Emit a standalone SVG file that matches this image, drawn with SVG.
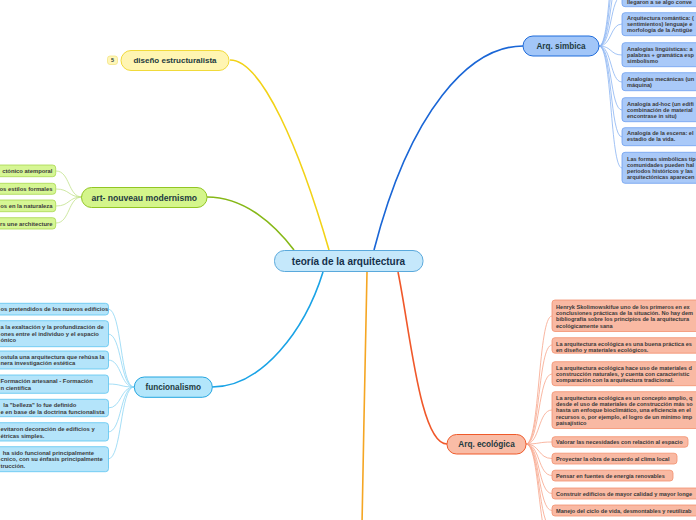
<svg xmlns="http://www.w3.org/2000/svg" width="696" height="520" viewBox="0 0 696 520">
<style>
text{font-family:"Liberation Sans",Arial,sans-serif}
.c{font-size:5.6px;font-weight:bold;fill:#3a3a3a;dominant-baseline:central}
.cl{font-size:5.85px}
.lbl{font-size:8.2px;font-weight:bold;fill:#1d3a40;text-anchor:middle;dominant-baseline:central}
.main{stroke-width:1.6;fill:none}
.sub{stroke-width:0.8;fill:none}
.gbox{fill:#d6f694;stroke:#a8d84e;stroke-width:0.8}
.bbox{fill:#a9c9f8;stroke:#6e9ff0;stroke-width:0.8}
.cbox{fill:#b4e4fa;stroke:#5cc4f0;stroke-width:0.8}
.rbox{fill:#f9b9a3;stroke:#f3916f;stroke-width:0.8}
</style>
<g id="connectors">
<path class="main" stroke="#f2d216" d="M230,60 C262,60 300,150 329,250"/>
<path class="main" stroke="#86b817" d="M207,197 C245,197 275,225 294,250"/>
<path class="main" stroke="#1a66d6" d="M523,46 C470,46 410,110 374,250"/>
<path class="main" stroke="#1aa3e6" d="M323,272 C305,330 262,387 212,387"/>
<path class="main" stroke="#f5a623" d="M367,272 C366,360 363,440 362,525"/>
<path class="main" stroke="#f0582a" d="M398,272 C410,330 420,444 447,444"/>
<g stroke="#8ab4f2" class="sub">
<path d="M599,46 C612,46 610,-90 622,-90"/>
<path d="M599,46 C612,46 610,-60 622,-60"/>
<path d="M599,46 C612,46 610,-30 622,-30"/>
<path d="M599,46 C612,46 610,-4 622,-4"/>
<path d="M599,46 C612,46 610,24 622,24"/>
<path d="M599,46 C612,46 610,55 622,55"/>
<path d="M599,46 C612,46 610,82 622,82"/>
<path d="M599,46 C612,46 610,110 622,110"/>
<path d="M599,46 C612,46 610,137 622,137"/>
<path d="M599,46 C612,46 610,168 622,168"/>
</g>
<g stroke="#c2e28a" class="sub">
<path d="M82,197 C68,197 70,171 56,171"/>
<path d="M82,197 C68,197 70,189 56,189"/>
<path d="M82,197 C68,197 70,206 56,206"/>
<path d="M82,197 C68,197 70,223 56,223"/>
</g>
<g stroke="#8ed5f4" class="sub">
<path d="M134,387 C120,387 122,309 108,309"/>
<path d="M134,387 C120,387 122,334 108,334"/>
<path d="M134,387 C120,387 122,360 108,360"/>
<path d="M134,387 C120,387 122,384 108,384"/>
<path d="M134,387 C120,387 122,408 108,408"/>
<path d="M134,387 C120,387 122,432 108,432"/>
<path d="M134,387 C120,387 122,459 108,459"/>
</g>
<g stroke="#f7a58a" class="sub">
<path d="M526,444 C540,444 538,316 552,316"/>
<path d="M526,444 C540,444 538,345 552,345"/>
<path d="M526,444 C540,444 538,374 552,374"/>
<path d="M526,444 C540,444 538,410 552,410"/>
<path d="M526,444 C540,444 538,442 552,442"/>
<path d="M526,444 C540,444 538,458.5 552,458.5"/>
<path d="M526,444 C540,444 538,475.5 552,475.5"/>
<path d="M526,444 C540,444 538,493.5 552,493.5"/>
<path d="M526,444 C540,444 538,510.5 552,510.5"/>
<path d="M526,444 C540,444 538,528 552,528"/>
<path d="M526,444 C540,444 538,546 552,546"/>
</g>
</g>
<g id="node-center">
<rect x="274.5" y="250.5" width="148.5" height="21" rx="10" fill="#c5e8fb" stroke="#5aa9dc" stroke-width="1"/>
<text class="lbl" x="348.5" y="261" style="font-size:10px;fill:#15304a">teoría de la arquitectura</text>
</g>
<g id="node-diseno">
<rect x="107.5" y="56" width="10" height="8.5" rx="2.5" fill="#fff6b8" stroke="#f2e27a" stroke-width="0.7"/>
<text class="lbl" x="112.5" y="60.3" style="font-size:5.5px">5</text>
<rect x="121" y="50.5" width="108" height="20" rx="10" fill="#fff5b2" stroke="#f1da3a" stroke-width="1"/>
<text class="lbl" x="175" y="60.5" style="font-size:8px">diseño estructuralista</text>
</g>
<g id="node-artnouveau">
<rect x="81.5" y="187.5" width="125.5" height="20" rx="10" fill="#d4f58b" stroke="#92c623" stroke-width="1"/>
<text class="lbl" x="144.3" y="197.5" style="font-size:8.6px">art- nouveau modernismo</text>
<rect class="gbox" x="-10" y="165" width="65.7" height="11.7" rx="3"/>
<text class="c cl" x="52.5" y="171" text-anchor="end">ctónico atemporal</text>
<rect class="gbox" x="-10" y="183.3" width="65.7" height="11" rx="3"/>
<text class="c cl" x="52.5" y="189" text-anchor="end">os estilos formales</text>
<rect class="gbox" x="-10" y="200" width="65.7" height="11.7" rx="3"/>
<text class="c cl" x="52.5" y="206" text-anchor="end">os en la naturaleza</text>
<rect class="gbox" x="-10" y="217.7" width="65.7" height="11.3" rx="3"/>
<text class="c cl" x="52.5" y="223.5" text-anchor="end">rs une architecture</text>
</g>
<g id="node-simbica">
<rect x="523" y="36" width="76" height="20" rx="10" fill="#a2c6f8" stroke="#1f6cdb" stroke-width="1"/>
<text class="lbl" x="561" y="46">Arq. simbica</text>
<rect class="bbox" x="622" y="-14" width="100" height="20.7" rx="3"/>
<text class="c" x="627" y="1.5">llegaron a se algo conve</text>
<rect class="bbox" x="622" y="12.7" width="100" height="23" rx="3"/>
<text class="c" y="18.3"><tspan x="627">Arquitectura romántica: (</tspan><tspan x="627" dy="6">sentimientos) lenguaje e</tspan><tspan x="627" dy="6">morfología de la Antigüe</tspan></text>
<rect class="bbox" x="622" y="42.7" width="100" height="24" rx="3"/>
<text class="c" y="48.5"><tspan x="627">Analogías lingüísticas: a</tspan><tspan x="627" dy="6">palabras + gramática esp</tspan><tspan x="627" dy="6">simbolismo</tspan></text>
<rect class="bbox" x="622" y="72.7" width="100" height="18" rx="3"/>
<text class="c" y="78.7"><tspan x="627">Analogías mecánicas (un</tspan><tspan x="627" dy="6">máquina)</tspan></text>
<rect class="bbox" x="622" y="97.7" width="100" height="24" rx="3"/>
<text class="c" y="103.5"><tspan x="627">Analogía ad-hoc (un edifi</tspan><tspan x="627" dy="6">combinación de material</tspan><tspan x="627" dy="6">encontrase in situ)</tspan></text>
<rect class="bbox" x="622" y="127.7" width="100" height="18" rx="3"/>
<text class="c" y="133.2"><tspan x="627">Analogía de la escena: el</tspan><tspan x="627" dy="6">estadio de la vida.</tspan></text>
<rect class="bbox" x="622" y="152.3" width="100" height="31" rx="3"/>
<text class="c" y="158.7"><tspan x="627">Las formas simbólicas típ</tspan><tspan x="627" dy="6.2">comunidades pueden hal</tspan><tspan x="627" dy="6.2">periodos históricos y las</tspan><tspan x="627" dy="6.2">arquitectónicas aparecen</tspan></text>
</g>
<g id="node-funcionalismo">
<rect x="134.3" y="377" width="78" height="20.3" rx="10" fill="#b3e6fb" stroke="#22a5e0" stroke-width="1"/>
<text class="lbl" x="173.3" y="387.3">funcionalismo</text>
<rect class="cbox" x="-10" y="303.3" width="118.5" height="11.7" rx="3"/>
<text class="c cl" x="0.5" y="309.3">os pretendidos de los nuevos edificios</text>
<rect class="cbox" x="-10" y="320.7" width="118.5" height="26" rx="3"/>
<text class="c cl" y="327.3"><tspan x="0.5">a la exaltación y la profundización de</tspan><tspan x="0.5" dy="6.2">ones entre el individuo y el espacio</tspan><tspan x="0.5" dy="6.2">ónico</tspan></text>
<rect class="cbox" x="-10" y="351" width="118.5" height="18" rx="3"/>
<text class="c cl" y="356.8"><tspan x="0.5">ostula una arquitectura que rehúsa la</tspan><tspan x="0.5" dy="6.5">nera investigación estética</tspan></text>
<rect class="cbox" x="-10" y="375" width="118.5" height="18.3" rx="3"/>
<text class="c cl" y="381"><tspan x="0.5">Formación artesanal - Formación</tspan><tspan x="0.5" dy="6.5">n científica</tspan></text>
<rect class="cbox" x="-10" y="399.3" width="118.5" height="17.4" rx="3"/>
<text class="c cl" y="404.6"><tspan x="3.3">la "belleza" lo fue definido</tspan><tspan x="0.5" dy="7">e en base de la doctrina funcionalista</tspan></text>
<rect class="cbox" x="-10" y="422.7" width="118.5" height="18.3" rx="3"/>
<text class="c cl" y="428.5"><tspan x="0.5">evitaron decoración de edificios y</tspan><tspan x="0.5" dy="7">étricas simples.</tspan></text>
<rect class="cbox" x="-10" y="446.7" width="118.5" height="25" rx="3"/>
<text class="c cl" y="452.5"><tspan x="2.7">ha sido funcional principalmente</tspan><tspan x="0.5" dy="6.6">cnico, con su énfasis principalmente</tspan><tspan x="0.5" dy="6.6">trucción.</tspan></text>
</g>
<g id="node-ecologica">
<rect x="447" y="434.5" width="79" height="19.5" rx="9.5" fill="#f9bca6" stroke="#ef5a2a" stroke-width="1"/>
<text class="lbl" x="486.5" y="444.3">Arq. ecológica</text>
<rect class="rbox" x="552" y="300" width="160" height="31.5" rx="3"/>
<text class="c" y="307"><tspan x="556">Henryk Skolimowskifue uno de los primeros en ex</tspan><tspan x="556" dy="6.2">conclusiones prácticas de la situación. No hay dem</tspan><tspan x="556" dy="6.2">bibliografía sobre los principios de la arquitectura</tspan><tspan x="556" dy="6.2">ecológicamente sana</tspan></text>
<rect class="rbox" x="552" y="337.7" width="160" height="15.5" rx="3"/>
<text class="c" y="343.7"><tspan x="556">La arquitectura ecológica es una buena práctica es</tspan><tspan x="556" dy="6">en diseño y materiales ecológicos.</tspan></text>
<rect class="rbox" x="552" y="361.7" width="160" height="24" rx="3"/>
<text class="c" y="367.5"><tspan x="556">La arquitectura ecológica hace uso de materiales d</tspan><tspan x="556" dy="6.4">construcción naturales, y cuenta con característic</tspan><tspan x="556" dy="6.4">comparación con la arquitectura tradicional.</tspan></text>
<rect class="rbox" x="552" y="391.7" width="160" height="36.8" rx="3"/>
<text class="c" y="397.5"><tspan x="556">La arquitectura ecológica es un concepto amplio, q</tspan><tspan x="556" dy="6.4">desde el uso de materiales de construcción más so</tspan><tspan x="556" dy="6.4">hasta un enfoque bioclimático, una eficiencia en el</tspan><tspan x="556" dy="6.4">recursos o, por ejemplo, el logro de un mínimo imp</tspan><tspan x="556" dy="6.4">paisajístico</tspan></text>
<rect class="rbox" x="552" y="436.7" width="136" height="10.5" rx="3"/>
<text class="c" x="556" y="442.2">Valorar las necesidades con relación al espacio</text>
<rect class="rbox" x="552" y="453.2" width="125" height="10.8" rx="3"/>
<text class="c" x="556" y="458.8">Proyectar la obra de acuerdo al clima local</text>
<rect class="rbox" x="552" y="470.2" width="121" height="10.8" rx="3"/>
<text class="c" x="556" y="475.8">Pensar en fuentes de energía renovables</text>
<rect class="rbox" x="552" y="488" width="160" height="11" rx="3"/>
<text class="c" x="556" y="493.7">Construir edificios de mayor calidad y mayor longe</text>
<rect class="rbox" x="552" y="505" width="160" height="11" rx="3"/>
<text class="c" x="556" y="510.7">Manejo del ciclo de vida, desmontables y reutilizab</text>
<rect class="rbox" x="552" y="521.5" width="160" height="11" rx="3"/>
</g>
</svg>
